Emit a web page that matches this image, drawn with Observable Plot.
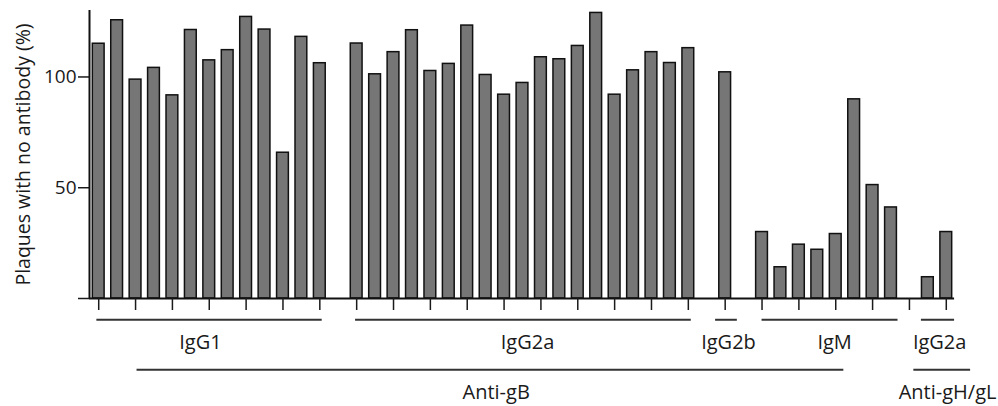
<!DOCTYPE html>
<html>
<head>
<meta charset="utf-8">
<script src="https://cdn.jsdelivr.net/npm/d3@7"></script>
<script src="https://cdn.jsdelivr.net/npm/@observablehq/plot@0.6"></script>
<style>
  html, body { margin: 0; padding: 0; background: #fff; }
</style>
</head>
<body>
<div id="chart"></div>
<script>
// ---- data ----
const isotypes = ["IgG1", "IgG2a", "IgG2b", "IgM", "IgG2a"];
const antigenOfGroup = ["Anti-gB", "Anti-gB", "Anti-gB", "Anti-gB", "Anti-gH/gL"];
const antigens = ["Anti-gB", "Anti-gH/gL"];
const igg1 = [115.0, 125.6, 98.8, 104.1, 91.7, 121.2, 107.5, 112.1, 127.1, 121.4, 65.8, 118.1, 106.2];
const igg2a = [115.1, 101.2, 111.2, 121.1, 102.7, 105.9, 123.2, 100.9, 92.0, 97.3, 108.9, 108.0, 114.0, 128.9, 92.0, 103.0, 111.2, 106.3, 113.0];
const igg2b = [102.1];
const igm = [30.0, 14.1, 24.3, 22.0, 29.1, 89.9, 51.2, 41.1];
const ghglIgg2a = [9.6, 30.0];
const yTicks = [0, 50, 100];
const yLabel = "Plaques with no antibody (%)";

// ---- layout (slot offsets for brackets and labels) ----
const groupBracket = [[-0.1, 0.13], [-0.06, 0.16], [-0.52, 0.66], [0.0, 0.38], [-0.35, 0.45]];
const groupLabelShift = [-0.48, 0.27, 0.18, 0.44, 0.14];
const antigenBracket = [[2.08, 40.44], [44.24, 47.32]];
const antigenLabelX = [21.57, 46.07];

// ---- build tables ----
const series = [igg1, igg2a, igg2b, igm, ghglIgg2a];
const bars = [];
const groups = [];
let slot = 0;
series.forEach((vals, gi) => {
  const first = slot;
  vals.forEach(v => { bars.push({slot, value: v, group: isotypes[gi]}); slot++; });
  const last = slot - 1;
  groups.push({
    name: isotypes[gi], antigen: antigenOfGroup[gi], first, last,
    x1: first + groupBracket[gi][0], x2: last + groupBracket[gi][1],
    lx: (first + last) / 2 + groupLabelShift[gi]
  });
  slot++; // empty slot between groups
});
const nSlots = slot - 1; // 47
const xTicks = d3.range(0, nSlots, 2);
const antigenRows = antigens.map((a, i) => ({name: a, x1: antigenBracket[i][0], x2: antigenBracket[i][1], lx: antigenLabelX[i]}));

const chart = Plot.plot({
  width: 998,
  height: 406,
  marginLeft: 89,
  marginRight: 43,
  marginTop: 10,
  marginBottom: 108,
  x: {domain: [-0.5, nSlots - 0.5], axis: null},
  y: {domain: [0, 130], axis: null},
  style: {fontFamily: "'Open Sans', sans-serif", fontSize: "19px", color: "#1a1a1a", background: "#fff", overflow: "visible"},
  marks: [
    Plot.rectY(bars, {x1: d => d.slot - 0.32, x2: d => d.slot + 0.32, y1: 0, y2: "value",
      fill: "#767676", stroke: "#111", strokeWidth: 1.5}),
    Plot.axisY({ticks: yTicks, tickSize: 11, tickPadding: 2, tickFormat: d => d === 0 ? "" : d,
      label: null, strokeWidth: 1.5, fontSize: 19}),
    Plot.ruleX([-0.5], {y1: 0, y2: 130, stroke: "#111", strokeWidth: 2}),
    Plot.ruleY([0], {x1: -0.5, x2: nSlots - 0.55, stroke: "#111", strokeWidth: 2}),
    Plot.axisX({ticks: xTicks, tickSize: 12, tickFormat: () => "", label: null, strokeWidth: 1.5}),
    Plot.ruleY(groups, {y: () => -9.6, x1: "x1", x2: "x2", stroke: "#333", strokeWidth: 2}),
    Plot.text(groups, {x: "lx", y: () => -20.1, text: "name", fontSize: 20, lineAnchor: "middle", fill: "#1a1a1a"}),
    Plot.ruleY(antigenRows, {y: () => -32.2, x1: "x1", x2: "x2", stroke: "#333", strokeWidth: 2}),
    Plot.text(antigenRows, {x: "lx", y: () => -42.5, text: "name", fontSize: 20, lineAnchor: "middle", fill: "#1a1a1a"}),
    Plot.text([yLabel], {frameAnchor: "left", dx: -66, rotate: -90, text: d => d, fontSize: 19.5,
      textAnchor: "middle", lineAnchor: "middle", fill: "#1a1a1a"})
  ]
});
document.getElementById("chart").appendChild(chart);
</script>
</body>
</html>
